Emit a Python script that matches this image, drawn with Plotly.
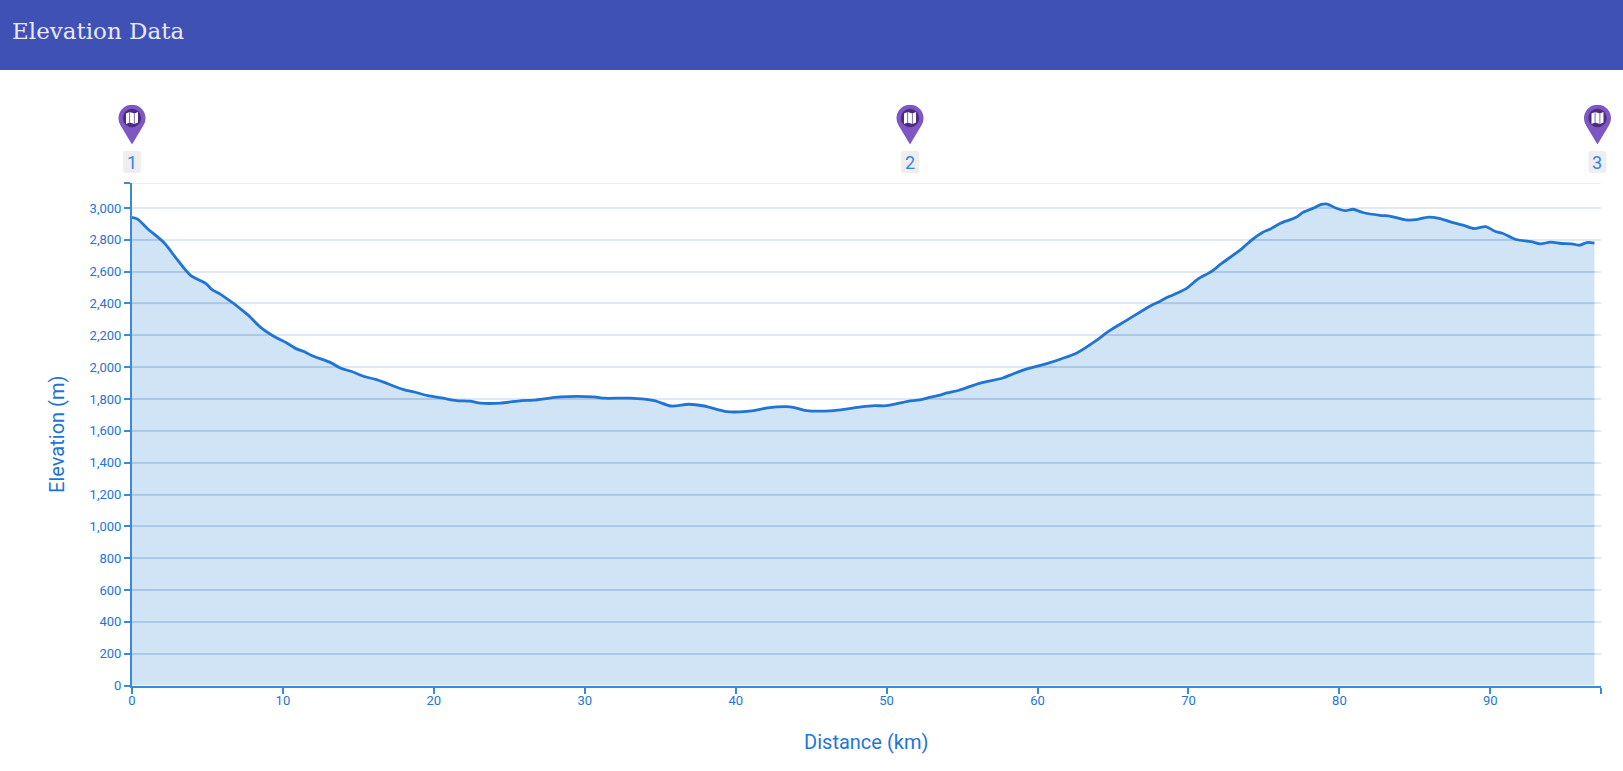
import base64
import numpy as np
import plotly.graph_objects as go

title_text = "Elevation Data"
x_title = "Distance (km)"
y_title = "Elevation (m)"
distance_km = [0, .37, 1.03, 2.14, 3.0, 3.9, 4.9, 5.3, 5.9, 7.66, 8.5, 9.6, 10.2, 10.9, 11.4, 11.9, 13.2,
               13.8, 14.5, 15.5, 16.2, 18, 18.7, 19.6, 20.5, 21.5, 22.4, 23.1, 24.4, 25.8, 26.6, 28.4, 30.6, 31.3, 33,
               34.6, 35.7, 36.9, 37.9, 39.4, 40.3, 41.2, 42.1, 43.3, 43.9, 44.7, 46.5, 47.4, 48.3, 49.2, 50, 51.4, 52.2, 52.9,
               53.6, 54, 54.8, 56.2, 57.7, 58.4, 59.3, 60.6, 61.6, 62.6, 63.9, 64.7, 65.9, 67.5, 68.1, 68.5, 69, 69.9, 70.6,
               71.5, 72.2, 73.5, 74.2, 74.9, 75.4, 76.1, 77.1, 77.6, 78.3, 78.8, 79.2, 79.8, 80.4, 80.9, 81.6, 82.7, 83.4,
               84.4, 85.1, 85.9, 86.6, 87.6, 88.2, 88.9, 89.7, 90.3, 90.8, 91.7, 92.7, 93.3, 94, 94.7, 95.4, 95.9, 96.4, 96.9]
elevation_m = [2941, 2930, 2870, 2780, 2675, 2575, 2525, 2487, 2456, 2330, 2252, 2183, 2155, 2115, 2098, 2073, 2027,
               1995, 1974, 1938, 1922, 1859, 1844, 1821, 1807, 1790, 1786, 1774, 1774, 1790, 1793, 1813, 1813, 1805, 1805,
               1790, 1756, 1767, 1756, 1721, 1719, 1727, 1744, 1752, 1746, 1727, 1727, 1738, 1750, 1758, 1758, 1785, 1794, 1812,
               1826, 1838, 1855, 1900, 1932, 1959, 1989, 2022, 2053, 2089, 2168, 2225, 2294, 2386, 2413, 2434, 2455, 2497, 2552,
               2600, 2652, 2741, 2800, 2846, 2867, 2904, 2940, 2973, 3000, 3023, 3025, 2998, 2983, 2992, 2970, 2954, 2948,
               2925, 2927, 2943, 2935, 2906, 2892, 2871, 2883, 2854, 2841, 2802, 2789, 2775, 2785, 2777, 2775, 2766, 2783, 2779]
y_ticks = list(range(0, 3001, 200))
x_ticks = list(range(0, 91, 10))
x_end = 97.3
y_end = 3157
waypoint_km = [0, 51.55, 97.1]
waypoint_labels = ["1", "2", "3"]

W, H = 1623, 771
LEFT, RIGHT, TOP, BOTTOM = 132, 1600.5, 183, 685.5
BLUE = "#1f74d4"
AXIS = "rgba(25,118,210,0.85)"
FONT = "Roboto, sans-serif"
GRID = "#e0e7f5"


def paper_x(km):
    return (LEFT + (RIGHT - LEFT) * km / x_end) / W


pin_svg = """<svg xmlns="http://www.w3.org/2000/svg" viewBox="0 0 28 40" width="28" height="40">
<path d="M14 40 L2.6 21 A13.5 13.5 0 1 1 25.4 21 Z" fill="#7e57c2"/>
<circle cx="14" cy="13.5" r="9.2" fill="#4a2d80"/>
<path d="M8 9 L11.6 7.6 L16.4 9 L20 7.6 V18 L16.4 19.4 L11.6 18 L8 19.4 Z" fill="#ffffff"/>
<path d="M11.6 7.6 V18 M16.4 9 V19.4" stroke="#4a2d80" stroke-width="0.7"/>
</svg>"""
pin_uri = "data:image/svg+xml;base64," + base64.b64encode(pin_svg.encode()).decode()

fig = go.Figure()
fig.add_trace(go.Scatter(
    x=distance_km, y=elevation_m, mode="lines", fill="tozeroy",
    fillcolor="rgba(25,118,210,0.2)",
    line=dict(color=BLUE, width=2.8, shape="spline", smoothing=0.8),
    hovertemplate="%{x} km: %{y} m<extra></extra>", showlegend=False,
))

# gridlines read darker where they sit over the filled area
dense = np.linspace(0, distance_km[-1], 3000)
prof = np.interp(dense, distance_km, elevation_m)
gx, gy = [], []
for t in y_ticks[1:]:
    for xv, flag in zip(dense, prof >= t):
        if flag:
            gx.append(float(xv)); gy.append(t)
        elif gx and gx[-1] is not None:
            gx.append(None); gy.append(None)
    gx.append(None); gy.append(None)
fig.add_trace(go.Scatter(x=gx, y=gy, mode="lines", line=dict(color="rgba(25,118,210,0.11)", width=1.5),
                         hoverinfo="skip", showlegend=False, connectgaps=False))

fig.update_layout(
    width=W, height=H, autosize=False,
    margin=dict(l=0, r=0, t=0, b=0, pad=0, autoexpand=False),
    paper_bgcolor="white", plot_bgcolor="white",
    font=dict(family=FONT, color=BLUE),
    showlegend=False,
    xaxis=dict(
        domain=[LEFT / W, RIGHT / W], range=[0, x_end], automargin=False,
        tickvals=x_ticks + [x_end], ticktext=[str(v) for v in x_ticks] + [""],
        ticks="outside", ticklen=6, tickwidth=2, tickcolor=AXIS,
        ticklabelstandoff=-4,
        tickfont=dict(family=FONT, size=13, color=BLUE),
        showline=True, linecolor=AXIS, linewidth=2,
        showgrid=False, zeroline=False,
        title=dict(text=x_title, standoff=28, font=dict(family=FONT, size=20, color=BLUE)),
    ),
    yaxis=dict(
        domain=[(H - BOTTOM) / H, (H - TOP) / H], range=[0, y_end], automargin=False,
        tickvals=y_ticks + [y_end], ticktext=[f"{v:,}" for v in y_ticks] + [""],
        ticks="outside", ticklen=6, tickwidth=2, tickcolor=AXIS,
        tickfont=dict(family=FONT, size=13, color=BLUE),
        showline=True, linecolor=AXIS, linewidth=2,
        showgrid=True, gridcolor=GRID, gridwidth=1.5, zeroline=False,
        title=dict(text=y_title, standoff=20, font=dict(family=FONT, size=20, color=BLUE)),
    ),
    shapes=[dict(type="rect", xref="paper", yref="paper", x0=0, x1=1, y0=(H - 70) / H, y1=1,
                 fillcolor="#3F51B5", line=dict(width=0), layer="below"),
            dict(type="line", xref="paper", yref="y", x0=LEFT / W, x1=RIGHT / W, y0=y_end, y1=y_end,
                 line=dict(color=GRID, width=1.5), layer="below")] + [
        dict(type="path", xref="paper", yref="paper", xsizemode="pixel", ysizemode="pixel",
             xanchor=paper_x(km), yanchor=(H - 162) / H,
             path="M-6,-11 L6,-11 Q9,-11 9,-8 L9,8 Q9,11 6,11 L-6,11 Q-9,11 -9,8 L-9,-8 Q-9,-11 -6,-11 Z",
             fillcolor="#eeeeee", line=dict(width=0), layer="above")
        for km in waypoint_km],
    annotations=[dict(text=title_text, xref="paper", yref="paper", x=10 / W, y=(H - 31) / H,
                      xanchor="left", yanchor="middle", showarrow=False,
                      font=dict(family="DejaVu Serif, serif", size=23, color="#e8eaf6"))] + [
        dict(text=lab, xref="paper", yref="paper", x=paper_x(km), y=(H - 162) / H, xanchor="center", yanchor="middle",
             showarrow=False, font=dict(family=FONT, size=18, color="#3484e6"))
        for km, lab in zip(waypoint_km, waypoint_labels)],
    images=[dict(source=pin_uri, xref="paper", yref="paper", x=paper_x(km), y=(H - 104.5) / H,
                 sizex=28 / W, sizey=40 / H, xanchor="center", yanchor="top",
                 sizing="stretch", layer="above")
            for km in waypoint_km],
)

fig.write_html("out.html", config=dict(displayModeBar=False),
               post_script="document.body.style.margin='0';document.body.style.overflow='hidden';")
